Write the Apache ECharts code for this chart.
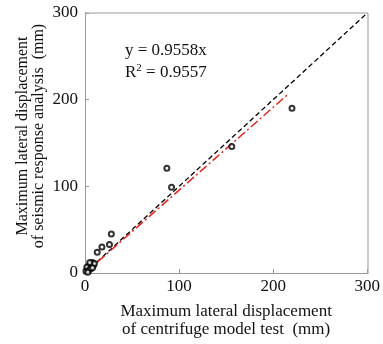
<!DOCTYPE html>
<html>
<head>
<meta charset="utf-8">
<script src="https://cdn.jsdelivr.net/npm/echarts@6/dist/echarts.min.js"></script>
<style>
html, body { margin: 0; padding: 0; background: #fff; }
#main { width: 383px; height: 344px; }
</style>
</head>
<body>
<div id="main"></div>
<script>
// measured points: centrifuge test (x) vs seismic response analysis (y), mm
var testX = [220, 156, 87, 92, 28, 26, 18, 13, 8, 6, 7, 5, 4, 3, 2, 1, 2, 9, 10, 4, 6, 5, 3, 8];
var analysisY = [190, 146, 121, 99, 45, 33, 30, 24, 12, 10, 8, 9, 6, 5, 4, 2, 7, 9, 11, 3, 5, 12, 1, 6];

// y = x reference and regression line y = 0.9558x
var equalLine = [[0, 0], [300, 300]];
var fitLine = [[0, 0], [217, 207.4]];

var ticks = [0, 100, 200, 300];

var serif = 'Liberation Serif';

var points = testX.map(function(x, i){ return [x, analysisY[i]]; });

var chart = echarts.init(document.getElementById('main'));

var axisCommon = {
	type: 'value',
	min: ticks[0],
	max: ticks[ticks.length - 1],
	interval: 100,
	nameLocation: 'middle',
	nameMoveOverlap: false,
	nameTextStyle: { fontFamily: serif, fontSize: 17, color: '#111', lineHeight: 18 },
	axisLine: { show: true, lineStyle: { color: '#999', width: 1 } },
	axisTick: { show: true, inside: true, length: 4, lineStyle: { color: '#999' } },
	axisLabel: { fontFamily: serif, fontSize: 17, color: '#111' },
	splitLine: { show: false }
};

var option = {
	animation: false,
	grid: { left: 85, top: 13, right: 15, bottom: 70 },
	xAxis: Object.assign({}, axisCommon, {
		name: 'Maximum lateral displacement\nof centrifuge model test  (mm)',
		nameGap: 30,
		axisLabel: Object.assign({}, axisCommon.axisLabel, { margin: 5 })
	}),
	yAxis: Object.assign({}, axisCommon, {
		name: 'Maximum lateral displacement\nof seismic response analysis  (mm)',
		nameGap: 38,
		nameTextStyle: Object.assign({}, axisCommon.nameTextStyle, { fontSize: 16, lineHeight: 16, padding: [0, 0, 0, 14] }),
		axisLabel: Object.assign({}, axisCommon.axisLabel, { margin: 7 })
	}),
	graphic: [
		{
			type: 'text', left: 125, top: 42,
			style: { text: 'y = 0.9558x', font: '17px "Liberation Serif"', fill: '#111' }
		},
		{
			type: 'text', left: 125, top: 63,
			style: {
				text: 'R{sup|2} = 0.9557',
				font: '17px "Liberation Serif"', fill: '#111',
				rich: { sup: { fontSize: 11, fontFamily: serif, verticalAlign: 'top', padding: [0, 0, 9, 0] } }
			}
		},
		// right and top frame edges
		{ type: 'line', shape: { x1: 368, y1: 13, x2: 368, y2: 274 }, style: { stroke: '#999', lineWidth: 1 } },
		{ type: 'line', shape: { x1: 85, y1: 13, x2: 368, y2: 13 }, style: { stroke: '#999', lineWidth: 1 } }
	],
	series: [
		{
			type: 'line',
			data: equalLine,
			symbol: 'none',
			lineStyle: { color: '#000', width: 1.3, type: [5, 3] },
			z: 2
		},
		{
			type: 'line',
			data: fitLine,
			symbol: 'none',
			lineStyle: { color: '#e8231a', width: 1.5, type: [9, 3, 2, 3] },
			z: 3
		},
		{
			type: 'scatter',
			data: points,
			symbol: 'emptyCircle',
			symbolSize: 5,
			itemStyle: { color: '#000', borderColor: '#000', borderWidth: 0.8 },
			z: 4
		}
	]
};

chart.setOption(option);
</script>
</body>
</html>
